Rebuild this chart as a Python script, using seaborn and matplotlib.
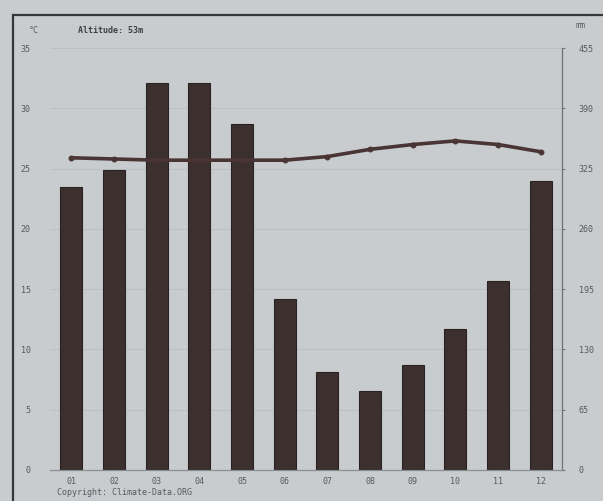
import matplotlib
matplotlib.use('Agg')
import matplotlib.pyplot as plt
import seaborn as sns
import pandas as pd
from matplotlib.patches import Rectangle

MONTHS = ['01', '02', '03', '04', '05', '06', '07', '08', '09', '10', '11', '12']
PRECIP_MM = [305, 323, 417, 417, 373, 184, 106, 85, 113, 152, 204, 312]
TEMP_C = [25.9, 25.8, 25.7, 25.7, 25.7, 25.7, 26.0, 26.6, 27.0, 27.3, 27.0, 26.4]
TEMP_TICKS = [0, 5, 10, 15, 20, 25, 30, 35]
PRECIP_TICKS = [0, 65, 130, 195, 260, 325, 390, 455]

BG = '#c9ccce'
BAR = '#3b302e'
LINE = '#4a3434'
TXT = '#555a5e'

sns.set_style('white')
plt.rcParams['font.family'] = ['DejaVu Sans Mono', 'DejaVu Sans']

df = pd.DataFrame({'month': MONTHS, 'precip': PRECIP_MM, 'temp': TEMP_C})

fig = plt.figure(figsize=(6.03, 5.01), dpi=100)
fig.patch.set_facecolor(BG)
ax = fig.add_axes([0.083, 0.062, 0.849, 0.842])
ax.set_facecolor(BG)
ax2 = ax.twinx()

# precipitation bars on the right axis
sns.barplot(data=df, x='month', y='precip', color=BAR, width=0.52,
            saturation=1, edgecolor='#2a2220', linewidth=0.8, ax=ax2, zorder=3)
ax2.set_ylim(0, 455)
ax2.set_yticks(PRECIP_TICKS)
ax2.set_yticklabels([str(t) for t in PRECIP_TICKS], fontsize=6, color=TXT)
ax2.set_ylabel('')
ax2.set_xlabel('')
# grid lines sit behind the bars (65 mm steps line up with 5 °C steps)
ax2.yaxis.grid(True, color='#bdc0c3', linewidth=0.7, zorder=0)
ax2.set_axisbelow(True)

# temperature line on the left axis
ax.set_zorder(ax2.get_zorder() + 1)
ax.patch.set_visible(False)
ax2.patch.set_facecolor(BG)
sns.lineplot(x=list(range(12)), y=df['temp'], color=LINE, linewidth=2.6,
             marker='o', markersize=3.5, markeredgecolor=LINE, ax=ax)
ax.set_ylim(0, 35)
ax.set_xlim(-0.5, 11.5)
ax2.set_xlim(-0.5, 11.5)
ax.set_yticks(TEMP_TICKS)
ax.set_yticklabels([str(t) for t in TEMP_TICKS], fontsize=6, color=TXT)
ax.set_xticks(range(12))
ax.set_xticklabels(MONTHS, fontsize=6, color=TXT)
ax.set_ylabel('')
ax.set_xlabel('')
ax.grid(False)
ax.tick_params(axis='y', length=0, pad=14)
ax.tick_params(axis='x', length=0, pad=5)
ax2.tick_params(axis='y', length=2, color='#777', pad=10)

for a in (ax, ax2):
    a.spines['top'].set_visible(False)
    a.spines['left'].set_visible(False)
    a.spines['right'].set_visible(False)
    a.spines['bottom'].set_color('#8a8e92')
    a.spines['bottom'].set_linewidth(0.8)
ax2.spines['right'].set_visible(True)
ax2.spines['right'].set_color('#6e7276')
ax2.spines['right'].set_linewidth(0.9)

fig.text(0.048, 0.935, '°C', fontsize=6, color=TXT)
fig.text(0.13, 0.935, 'Altitude: 53m', fontsize=6, color='#3c4044', fontweight='bold')
fig.text(0.955, 0.945, 'mm', fontsize=6, color=TXT)
fig.text(0.095, 0.012, 'Copyright: Climate-Data.ORG', fontsize=6, color=TXT)

# page frame from the printed sheet
fig.patches.append(Rectangle((0.022, -0.02), 1.0, 0.99, transform=fig.transFigure,
                             fill=False, edgecolor='#33373a', linewidth=1.6))

fig.savefig('out.png', dpi=100, facecolor=fig.get_facecolor())
